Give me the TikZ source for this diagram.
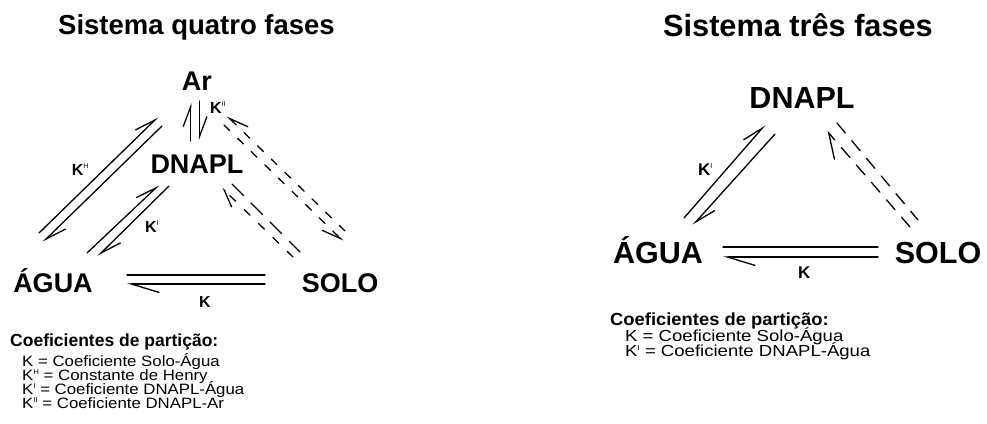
\documentclass[tikz,border=0pt]{standalone}
\usepackage{fontspec}
\setmainfont{Liberation Sans}
\newfontfamily\legfontL[FakeStretch=1.12]{Liberation Sans}
\newfontfamily\legfontR[FakeStretch=1.16]{Liberation Sans}
\newfontfamily\legheadfont[FakeStretch=1.05]{Liberation Sans}
\usetikzlibrary{arrows.meta}

% small upright superscript mark placed after a K
\newcommand\supmk[1]{\raisebox{0.4em}{\fontsize{7}{7}\selectfont\mdseries #1}}

\begin{document}
\begin{tikzpicture}[x=1pt,y=-1pt,
  ttlL/.style={font=\fontsize{27.5}{30}\selectfont\bfseries, inner sep=0pt, anchor=base},
  ttlR/.style={font=\fontsize{30.7}{33}\selectfont\bfseries, inner sep=0pt, anchor=base},
  phaseL/.style={font=\fontsize{27}{30}\selectfont\bfseries, inner sep=0pt, anchor=base},
  phaseR/.style={font=\fontsize{30.5}{33}\selectfont\bfseries, inner sep=0pt, anchor=base},
  klabL/.style={font=\fontsize{16}{16}\selectfont\bfseries, inner sep=0pt, anchor=base west},
  klabR/.style={font=\fontsize{17}{17}\selectfont\bfseries, inner sep=0pt, anchor=base west},
  legheadL/.style={font=\fontsize{17.5}{20}\selectfont\bfseries, inner sep=0pt, anchor=base west},
  legheadR/.style={font=\legheadfont\fontsize{17.5}{20}\selectfont\bfseries, inner sep=0pt, anchor=base west},
  legrowL/.style={font=\legfontL\fontsize{15}{16}\selectfont, inner sep=0pt, anchor=base west},
  legrowR/.style={font=\legfontR\fontsize{16}{17}\selectfont, inner sep=0pt, anchor=base west},
  eqline/.style={line width=1.3pt, line cap=round},
  % half arrow heads, barb on the left or (sw) right side of the line
  harp/.style={eqline, -{Straight Barb[harpoon, length=21pt, width=13pt]}},
  harpsw/.style={eqline, -{Straight Barb[harpoon, swap, length=19pt, width=14pt]}},
  harpvert/.style={eqline, -{Straight Barb[harpoon, length=20pt, width=15pt]}},
  harplong/.style={eqline, -{Straight Barb[harpoon, length=28pt, width=17pt]}},
  harpwide/.style={eqline, -{Straight Barb[harpoon, length=24pt, width=26pt]}},
  harpshort/.style={eqline, -{Straight Barb[harpoon, length=17pt, width=14pt]}},
  dashA/.style={dash pattern=on 8pt off 11pt},
  dashB/.style={dash pattern=on 16pt off 11pt},
  dashD/.style={dash pattern=on 8pt off 12pt},
  dashC/.style={dash pattern=on 13pt off 10pt}
]
\useasboundingbox (0,0) rectangle (987,423);

% ---------------- four-phase system ----------------
\node[ttlL] (titleL) at (196.5,34) {Sistema quatro fases};

\node[phaseL] (ar)     at (197,90)  {Ar};
\node[phaseL] (dnaplL) at (197,173.5) {DNAPL};
\node[phaseL] (aguaL)  at (53,292)  {ÁGUA};
\node[phaseL] (soloL)  at (340,292) {SOLO};

% end points of the equilibrium arrows
\coordinate (kh1s) at (39,233);    \coordinate (kh1e) at (158,117);
\coordinate (kh2s) at (162,126);   \coordinate (kh2e) at (43,242);
\coordinate (v1s)  at (190.7,141); \coordinate (v1e)  at (190.7,103);
\coordinate (v2s)  at (199.5,101); \coordinate (v2e)  at (199.5,140);
\coordinate (ki1s) at (87,253);    \coordinate (ki1e) at (159,185);
\coordinate (ki2s) at (169,186);   \coordinate (ki2e) at (98,256);
\coordinate (k1s)  at (127,275);   \coordinate (k1e)  at (265,275);
\coordinate (k2s)  at (265,284);   \coordinate (k2e)  at (127,284);
\coordinate (da1s) at (224,125);   \coordinate (da1e) at (343,241);
\coordinate (db1s) at (345,231);   \coordinate (db1e) at (227,116);
\coordinate (dc1s) at (293,257);   \coordinate (dc1e) at (222,188);
\coordinate (dd1s) at (232,184);   \coordinate (dd1e) at (300,252);

% water <-> air
\draw[harp] (kh1s) -- (kh1e);
\draw[harp] (kh2s) -- (kh2e);
% DNAPL <-> air
\draw[harpvert] (v1s) -- (v1e);
\draw[harpvert] (v2s) -- (v2e);
% water <-> DNAPL
\draw[harp] (ki1s) -- (ki1e);
\draw[harp] (ki2s) -- (ki2e);
% soil <-> water
\draw[eqline] (k1s) -- (k1e);
\draw[harplong] (k2s) -- (k2e);
% soil <-> air (dashed)
\draw[harpsw, dashA] (da1s) -- (da1e);
\draw[harpsw, dashA] (db1s) -- (db1e);
% soil <-> DNAPL (dashed)
\draw[harpshort, dashD] (dc1s) -- (dc1e);
\draw[eqline, dashB] (dd1s) -- (dd1e);

\node[klabL] (lkh)  at (71.7,175) {K\supmk{H}};
\node[klabL] (lki)  at (145,232)  {K\supmk{I}};
\node[klabL] (lkii) at (210,113)  {K\supmk{II}};
\node[klabL] (lk)   at (199,307)  {K};

\node[legheadL] (legheadL) at (10,346.5) {Coeficientes de partição:};
\node[legrowL] (legL1) at (22,366.8) {K = Coeficiente Solo-Água};
\node[legrowL] (legL2) at (22,380.6) {K\supmk{H} = Constante de Henry};
\node[legrowL] (legL3) at (22,394.4) {K\supmk{I} = Coeficiente DNAPL-Água};
\node[legrowL] (legL4) at (22,408.2) {K\supmk{II} = Coeficiente DNAPL-Ar};

% ---------------- three-phase system ----------------
\node[ttlR] (titleR) at (798,36) {Sistema três fases};

\node[phaseR] (dnaplR) at (802,108) {DNAPL};
\node[phaseR] (aguaR)  at (658,263) {ÁGUA};
\node[phaseR] (soloR)  at (938,263) {SOLO};

\coordinate (r1s)  at (684,218); \coordinate (r1e)  at (765,125);
\coordinate (r2s)  at (775,134); \coordinate (r2e)  at (693,225);
\coordinate (rk1s) at (723,247); \coordinate (rk1e) at (878,247);
\coordinate (rk2s) at (878,257); \coordinate (rk2e) at (723,257);
\coordinate (res)  at (910,227); \coordinate (ree)  at (827,131);
\coordinate (rfs)  at (837,123); \coordinate (rfe)  at (918,220);

\draw[harp] (r1s) -- (r1e);
\draw[harp] (r2s) -- (r2e);
\draw[eqline] (rk1s) -- (rk1e);
\draw[harplong] (rk2s) -- (rk2e);
\draw[harpwide, dashC] (res) -- (ree);
\draw[eqline, dashC] (rfs) -- (rfe);

\node[klabR] (rki) at (698,175) {K\supmk{I}};
\node[klabR] (rk)  at (798,278) {K};

\node[legheadR] (legheadR) at (610,325) {Coeficientes de partição:};
\node[legrowR] (legR1) at (625,341) {K = Coeficiente Solo-Água};
\node[legrowR] (legR2) at (625,356.5) {K\supmk{I} = Coeficiente DNAPL-Água};
\end{tikzpicture}
\end{document}
